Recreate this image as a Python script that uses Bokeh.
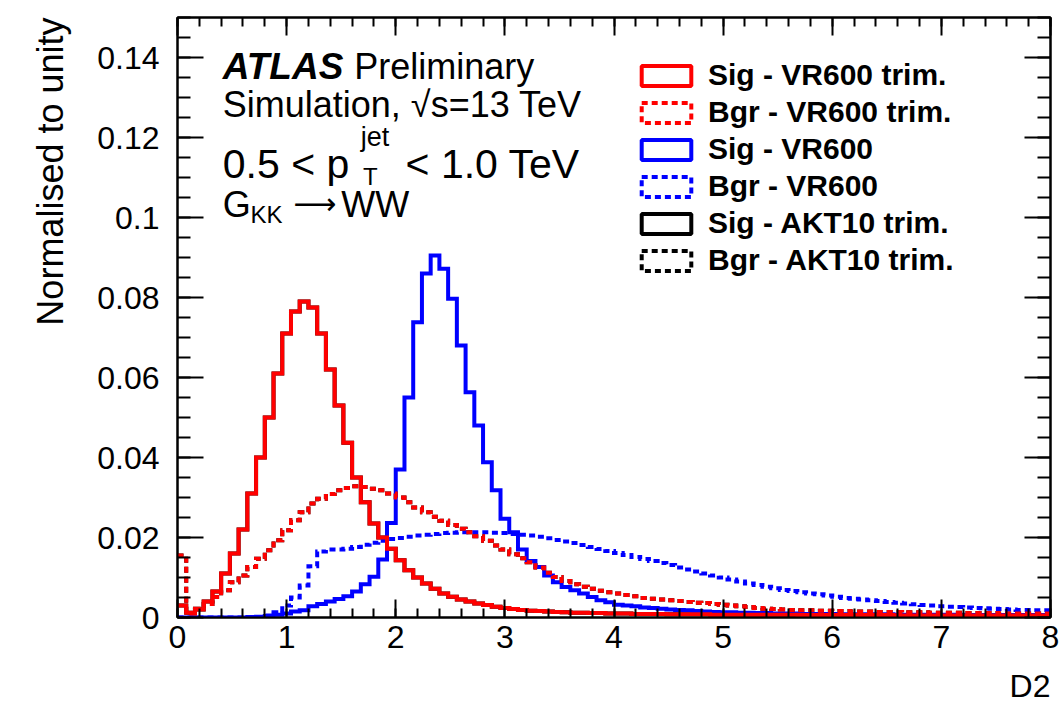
import numpy as np
from bokeh.plotting import figure
from bokeh.models import (Range1d, FixedTicker, LinearAxis, NumeralTickFormatter,
                          Legend, LegendItem, Label, Title)
from bokeh.embed import file_html
from bokeh.resources import INLINE

# ---------------- data (100 bins, 0 .. 8 in D2) ----------------
bin_edges = np.linspace(0, 8, 101)

sig_vr600_trim = [
    0.003, 0.0012, 0.002, 0.004, 0.0065, 0.011, 0.016, 0.022, 0.031, 0.040,
    0.050, 0.061, 0.071, 0.0765, 0.079, 0.0775, 0.071, 0.062, 0.053, 0.0437,
    0.035, 0.0288, 0.0235, 0.020, 0.0172, 0.0143, 0.0118, 0.010, 0.0085, 0.0072,
    0.006, 0.0052, 0.0045, 0.004, 0.0035, 0.0031, 0.0027, 0.0024, 0.0021, 0.0019,
    0.0017, 0.0016, 0.0015, 0.0014, 0.0013, 0.0012, 0.0012, 0.0011, 0.0011, 0.001,
    0.001, 0.001, 0.0009, 0.0009, 0.0009, 0.0009, 0.0008, 0.0008, 0.0008, 0.0008,
    0.0008, 0.0007, 0.0007, 0.0007, 0.0007, 0.0007, 0.0007, 0.0007, 0.0007, 0.0007,
    0.0007, 0.0006, 0.0006, 0.0006, 0.0006, 0.0006, 0.0006, 0.0006, 0.0006, 0.0006,
    0.0006, 0.0006, 0.0005, 0.0005, 0.0005, 0.0005, 0.0005, 0.0005, 0.0005, 0.0005,
    0.0005, 0.0005, 0.0005, 0.0005, 0.0005, 0.0005, 0.0005, 0.0005, 0.0005, 0.0005,
]

bgr_vr600_trim = [
    0.0155, 0.001, 0.0022, 0.0034, 0.0051, 0.0068, 0.0088, 0.0105, 0.0126, 0.0147,
    0.0168, 0.0193, 0.0218, 0.0243, 0.0263, 0.0285, 0.0297, 0.0309, 0.0318, 0.0324,
    0.0328, 0.0326, 0.0322, 0.0318, 0.031, 0.030, 0.0288, 0.0275, 0.0263, 0.0252,
    0.0242, 0.0231, 0.0222, 0.0213, 0.0203, 0.0192, 0.018, 0.017, 0.0158, 0.0148,
    0.0138, 0.0125, 0.0112, 0.0101, 0.0091, 0.0083, 0.0077, 0.0072, 0.0067, 0.0063,
    0.006, 0.0056, 0.0053, 0.0049, 0.0047, 0.0045, 0.0043, 0.0041, 0.0039, 0.0037,
    0.0036, 0.0034, 0.0032, 0.003, 0.0028, 0.0026, 0.0024, 0.0022, 0.0021, 0.002,
    0.0019, 0.0018, 0.0018, 0.0017, 0.0017, 0.0016, 0.0016, 0.0015, 0.0015, 0.0015,
    0.0014, 0.0014, 0.0014, 0.0013, 0.0013, 0.0013, 0.0012, 0.0012, 0.0012, 0.0012,
    0.0011, 0.0011, 0.0011, 0.0011, 0.001, 0.001, 0.001, 0.001, 0.001, 0.001,
]

sig_vr600 = [
    0.0, 0.0, 0.0, 0.0, 0.0, 0.0, 0.0, 0.0, 0.0001, 0.0002,
    0.0004, 0.0007, 0.001, 0.0015, 0.0018, 0.0028, 0.0034, 0.004, 0.0046, 0.0053,
    0.0065, 0.0083, 0.0102, 0.0145, 0.0236, 0.037, 0.055, 0.0738, 0.086, 0.0905,
    0.0872, 0.0797, 0.068, 0.0563, 0.048, 0.0388, 0.0318, 0.0247, 0.0213, 0.017,
    0.0141, 0.0126, 0.0105, 0.0088, 0.0076, 0.0068, 0.006, 0.0051, 0.0043, 0.0038,
    0.0032, 0.003, 0.0028, 0.0025, 0.0024, 0.0022, 0.002, 0.0019, 0.0018, 0.0016,
    0.0015, 0.0014, 0.0013, 0.0013, 0.0012, 0.0012, 0.0011, 0.0011, 0.001, 0.001,
    0.001, 0.0009, 0.0009, 0.0009, 0.0009, 0.0009, 0.0008, 0.0008, 0.0008, 0.0008,
    0.0008, 0.0008, 0.0007, 0.0007, 0.0007, 0.0007, 0.0007, 0.0007, 0.0007, 0.0007,
    0.0006, 0.0006, 0.0006, 0.0006, 0.0006, 0.0006, 0.0006, 0.0006, 0.0006, 0.0006,
]

bgr_vr600 = [
    0.0, 0.0, 0.0, 0.0, 0.0, 0.0, 0.0, 0.0, 0.0, 0.0,
    0.0005, 0.0013, 0.003, 0.005, 0.008, 0.0128, 0.0165, 0.017, 0.017, 0.0172,
    0.0176, 0.0182, 0.0187, 0.0192, 0.0196, 0.0199, 0.0202, 0.0205, 0.0207, 0.0209,
    0.0211, 0.0212, 0.0213, 0.0213, 0.0213, 0.0213, 0.0212, 0.0211, 0.0209, 0.0207,
    0.0205, 0.0202, 0.0198, 0.0194, 0.019, 0.0186, 0.0181, 0.0176, 0.0171, 0.0166,
    0.0161, 0.0156, 0.0151, 0.0146, 0.0141, 0.0136, 0.0131, 0.0125, 0.012, 0.0115,
    0.011, 0.0105, 0.01, 0.0095, 0.009, 0.0085, 0.0081, 0.0077, 0.0073, 0.0069,
    0.0066, 0.0063, 0.006, 0.0058, 0.0055, 0.0052, 0.0049, 0.0047, 0.0045, 0.0043,
    0.0041, 0.0039, 0.0037, 0.0035, 0.0033, 0.0031, 0.003, 0.0028, 0.0027, 0.0026,
    0.0025, 0.0024, 0.0023, 0.0022, 0.0021, 0.002, 0.0019, 0.0019, 0.0018, 0.0018,
]

# AKT10 trimmed curves lie underneath the VR600 trimmed ones
sig_akt10_trim = list(sig_vr600_trim)
bgr_akt10_trim = list(bgr_vr600_trim)

series_labels = ["Sig - VR600 trim.", "Bgr - VR600 trim.", "Sig - VR600",
                 "Bgr - VR600", "Sig - AKT10 trim.", "Bgr - AKT10 trim."]
y_ticks = [0, 0.02, 0.04, 0.06, 0.08, 0.10, 0.12, 0.14]
x_ticks = [0, 1, 2, 3, 4, 5, 6, 7, 8]

FONT = "Liberation Sans"
DASH = "6 4"

p = figure(width=1062, height=719, output_backend="svg", toolbar_location=None,
           x_range=Range1d(0, 8), y_range=Range1d(0, 0.15),
           min_border_left=177, min_border_right=12, min_border_top=17,
           min_border_bottom=102)
p.xgrid.visible = False
p.ygrid.visible = False
p.outline_line_color = "black"
p.outline_line_width = 2
p.background_fill_color = "white"
p.border_fill_color = "white"

y_minor = [i * 0.005 for i in range(31)]
x_minor = [i * 0.2 for i in range(41)]

def style_axis(ax, horizontal, labels=True):
    ax.axis_line_width = 2
    ax.major_tick_line_width = 2
    ax.minor_tick_line_width = 2
    ax.major_tick_out = 0
    ax.minor_tick_out = 0
    if horizontal:
        ax.ticker = FixedTicker(ticks=x_ticks, minor_ticks=x_minor)
        ax.major_tick_in = 18
        ax.minor_tick_in = 9
    else:
        ax.ticker = FixedTicker(ticks=y_ticks, minor_ticks=y_minor)
        ax.major_tick_in = 26
        ax.minor_tick_in = 13
        ax.formatter = NumeralTickFormatter(format="0.[00]")
    if labels:
        ax.major_label_text_font = FONT
        ax.major_label_text_font_size = "32px"
        ax.major_label_text_color = "black"
    else:
        ax.major_label_text_font_size = "0px"
        ax.major_label_standoff = 0

xa = p.xaxis[0]
style_axis(xa, True)
xa.major_label_standoff = 8
style_axis(p.yaxis[0], False)
p.yaxis[0].major_label_standoff = 18

ax_top = LinearAxis()
style_axis(ax_top, True, labels=False)
p.add_layout(ax_top, "above")
ax_right = LinearAxis()
style_axis(ax_right, False, labels=False)
p.add_layout(ax_right, "right")

# ---------------- histograms ----------------
def hist(vals, color, dash):
    ys = list(vals) + [vals[-1]]
    kw = dict(line_color=color, line_width=4, line_join="miter", mode="after")
    if dash:
        kw["line_dash"] = dash
    return p.step(x=bin_edges, y=ys, **kw)

hist(sig_akt10_trim, "black", None)
hist(bgr_akt10_trim, "black", DASH)
hist(bgr_vr600, "#0000ff", DASH)
hist(sig_vr600, "#0000ff", None)
hist(bgr_vr600_trim, "#ff0000", DASH)
hist(sig_vr600_trim, "#ff0000", None)

# ---------------- legend ----------------
leg_styles = [("#ff0000", "solid"), ("#ff0000", DASH), ("#0000ff", "solid"),
              ("#0000ff", DASH), ("black", "solid"), ("black", DASH)]
items = []
for lab, (col, dash) in zip(series_labels, leg_styles):
    r = p.quad(left=[np.nan], right=[np.nan], top=[np.nan], bottom=[np.nan],
               fill_color="white", line_color=col, line_width=4, line_dash=dash)
    items.append(LegendItem(label=lab, renderers=[r]))
legend = Legend(items=items, location=(458, 340), glyph_width=62, glyph_height=25,
                label_text_font_size="30px", label_text_font_style="bold",
                label_text_font=FONT, label_text_color="black", spacing=3,
                padding=0, margin=0, border_line_color=None,
                background_fill_alpha=0, label_standoff=11, label_height=25)
p.add_layout(legend)

# ---------------- annotations ----------------
def lab(x, y, text, size="36px", style="normal", font=FONT, align="left"):
    p.add_layout(Label(x=x, y=y, text=text, text_font=font, text_font_size=size,
                       text_font_style=style, text_baseline="alphabetic",
                       text_align=align, text_color="black"))

lab(0.415, 0.13775, "ATLAS", size="37px", style="bold italic")
lab(1.62, 0.13775, "Preliminary")
lab(0.415, 0.12825, "Simulation, √s=13 TeV")
lab(0.415, 0.1135, "0.5 < p", size="41px")
lab(1.68, 0.12025, "jet", size="27px")
lab(1.70, 0.11025, "T", size="24px")
lab(2.09, 0.1135, "< 1.0 TeV", size="41px")
lab(0.415, 0.10325, "G")
lab(0.67, 0.10075, "KK", size="24px")
lab(1.06, 0.1035, "⟶", size="30px", font="DejaVu Sans")
lab(1.50, 0.10325, "WW")

# ---------------- axis titles ----------------
p.add_layout(Title(text="Normalised to unity", align="right", text_font=FONT,
                   text_font_size="36px", text_font_style="normal",
                   text_color="black", standoff=47), "left")
p.add_layout(Title(text="D2", align="right", text_font=FONT,
                   text_font_size="32px", text_font_style="normal",
                   text_color="black", standoff=30), "below")

open("out.html", "w").write(file_html(p, INLINE))
